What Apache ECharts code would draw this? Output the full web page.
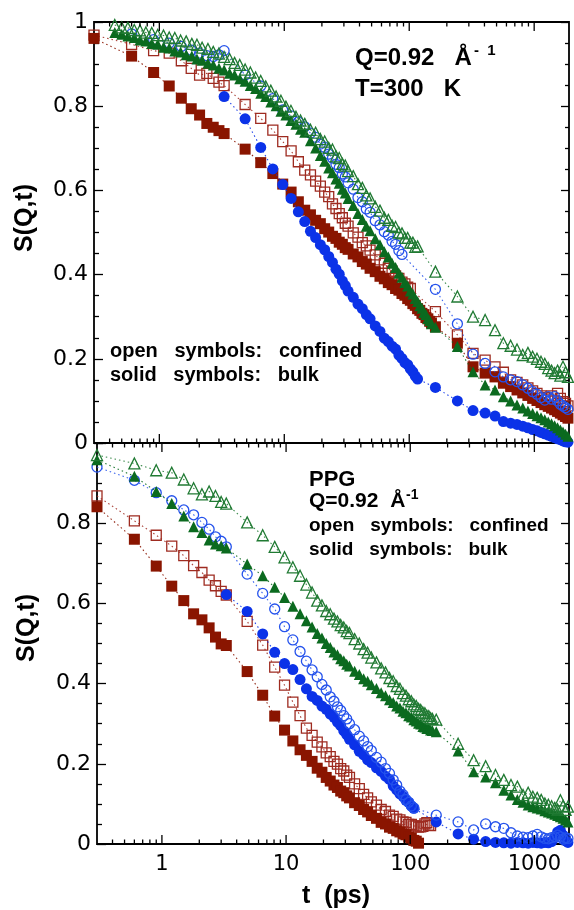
<!DOCTYPE html>
<html>
<head>
<meta charset="utf-8">
<script src="https://cdn.jsdelivr.net/npm/echarts@6/dist/echarts.min.js"></script>
<style>
  html, body { margin: 0; padding: 0; background: #fff; }
  #chart { width: 574px; height: 910px; }
</style>
</head>
<body>
<div id="chart"></div>
<script>
// ---- time grids (ps) ----
const tEarly = [0.3, 0.6, 0.9, 1.2, 1.5, 1.8, 2.1, 2.4, 2.7, 3.0, 3.3, 4.86, 6.48, 8.1, 9.72, 11.34, 12.96];
const tFine = [0.44, 0.5, 0.56, 0.63, 0.7, 0.78, 0.87, 0.97, 1.08, 1.2, 1.33, 1.48, 1.64, 1.82, 2.0, 2.2, 2.45, 2.7, 3.0, 3.3,
  3.65, 4.0, 4.4, 4.86, 5.35, 5.9, 6.48, 7.1, 7.8, 8.6, 9.4, 10.3, 11.3, 12.4, 13.5];
const tDense = [14.58, 16.2, 17.82, 19.44, 21.06, 22.68, 24.3, 25.92, 27.54, 29.16, 30.78, 32.4,
  35.64, 38.88, 42.12, 45.36, 48.6,
  53.46, 58.32, 63.18, 68.04, 72.9, 77.76, 82.62, 87.48, 92.34, 97.2, 102.06, 106.92, 111.78, 116.64,
  121.5, 126.36, 131.22, 136.08, 140.94, 145.8, 150.66];
const tLate = [162, 243, 324, 405, 486, 567, 648, 729, 810, 891, 972, 1053, 1134, 1215, 1296, 1377, 1458, 1539, 1620, 1701, 1782, 1863];

const tMain = tEarly.concat(tDense, tLate);
const tGreenTop = tFine.concat(tDense, tLate);

// ---- upper panel, T = 300 K ----
const topRedBulk = [
  0.961, 0.919, 0.880, 0.848, 0.819, 0.794, 0.779, 0.759, 0.750, 0.742, 0.735, 0.698, 0.666, 0.640, 0.615, 0.596, 0.573,
  0.553, 0.542, 0.529, 0.521, 0.509, 0.501, 0.491, 0.486, 0.477, 0.472, 0.464, 0.460, 0.449, 0.442, 0.431, 0.425, 0.415,
  0.407, 0.396, 0.390, 0.381, 0.376, 0.367, 0.363, 0.355, 0.351, 0.343, 0.339, 0.331, 0.327, 0.319, 0.315, 0.308, 0.305, 0.298, 0.295, 0.289, 0.285,
  0.276, 0.237, 0.181, 0.166, 0.157, 0.142, 0.134, 0.126, 0.119, 0.113, 0.106, 0.101, 0.096, 0.091, 0.087, 0.083, 0.079, 0.075, 0.071, 0.067, 0.063, 0.059
];
const topRedConfined = [
  0.969, 0.947, 0.932, 0.926, 0.908, 0.890, 0.874, 0.878, 0.866, 0.857, 0.849, 0.804, 0.771, 0.743, 0.716, 0.694, 0.668,
  0.648, 0.637, 0.622, 0.610, 0.596, 0.585, 0.568, 0.557, 0.545, 0.535, 0.522, 0.515, 0.499, 0.489, 0.476, 0.468, 0.458,
  0.447, 0.435, 0.427, 0.415, 0.408, 0.397, 0.391, 0.382, 0.378, 0.370, 0.367, null, null, null, null, null, null, null, null, null, null,
  0.312, 0.257, 0.213, 0.197, 0.181, 0.168, 0.150, 0.144, 0.138, 0.131, 0.124, 0.118, 0.112, 0.108, 0.104, 0.112, 0.100, 0.118, 0.106, 0.098, 0.094, 0.088
];
const topBlueBulk = [
  null, null, null, null, null, null, null, null, null, null, 0.823, 0.770, 0.702, 0.651, 0.614, 0.581, 0.549,
  0.526, 0.503, 0.488, 0.471, 0.459, 0.443, 0.429, 0.413, 0.401, 0.385, 0.374, 0.361, 0.346, 0.330, 0.319, 0.305, 0.295,
  0.278, 0.265, 0.249, 0.241, 0.230, 0.223, 0.209, 0.201, 0.191, 0.186, 0.176, 0.169, 0.159, 0.152, null, null, null, null, null, null, null,
  0.132, 0.100, 0.077, 0.071, 0.064, 0.051, 0.047, 0.044, 0.040, 0.036, 0.032, 0.029, 0.025, 0.022, 0.019, 0.016, 0.013, 0.010, 0.008, 0.005, 0.003, 0.002
];
const topBlueConfined = [
  null, 0.972, 0.958, 0.950, 0.942, 0.933, 0.926, 0.920, 0.918, 0.922, 0.932, 0.874, 0.848, 0.818, 0.791, 0.777, 0.763,
  0.751, 0.736, 0.726, 0.710, 0.702, 0.686, 0.677, 0.662, 0.654, 0.639, 0.632, 0.618, 0.603, 0.583, 0.573, 0.556, 0.548,
  0.528, 0.518, 0.502, 0.494, 0.479, 0.472, 0.457, 0.448, null, null, null, null, null, null, null, null, null, null, null, null, null,
  0.365, 0.283, 0.211, 0.189, 0.169, 0.157, 0.150, 0.146, 0.138, 0.130, 0.122, 0.116, 0.108, 0.102, 0.110, 0.104, 0.110, 0.100, 0.092, 0.088, 0.084, 0.080
];
const topGreenBulk = [
  0.975, 0.971, 0.967, 0.963, 0.957, 0.955, 0.949, 0.947, 0.940, 0.938, 0.931, 0.929, 0.922, 0.919, 0.912, 0.909, 0.902, 0.898,
  0.890, 0.886, 0.878, 0.874, 0.865, 0.859, 0.849, 0.842, 0.831, 0.823, 0.810, 0.801, 0.788, 0.779, 0.766, 0.757, 0.745,
  0.738, 0.718, 0.701, 0.683, 0.669, 0.653, 0.642, 0.627, 0.617, 0.603, 0.594, 0.581, 0.564, 0.545, 0.531, 0.515, 0.504,
  0.485, 0.471, 0.454, 0.442, 0.427, 0.417, 0.403, 0.394, 0.381, 0.373, 0.361, 0.354, 0.343, 0.336, 0.326, 0.320, 0.310, 0.305, 0.296, 0.291, 0.283,
  0.275, 0.229, 0.169, 0.138, 0.126, 0.110, 0.100, 0.090, 0.083, 0.076, 0.070, 0.065, 0.060, 0.055, 0.050, 0.046, 0.041, 0.036, 0.031, 0.026, 0.021, 0.016
];
const topGreenConfined = [
  0.993, 0.987, 0.986, 0.981, 0.980, 0.975, 0.974, 0.969, 0.968, 0.963, 0.962, 0.956, 0.954, 0.948, 0.946, 0.939, 0.936, 0.929,
  0.925, 0.917, 0.912, 0.903, 0.898, 0.887, 0.880, 0.868, 0.860, 0.847, 0.837, 0.823, 0.813, 0.799, 0.789, 0.775, 0.766,
  0.758, 0.744, 0.737, 0.722, 0.716, 0.701, 0.697, 0.681, 0.677, 0.663, 0.659, 0.646, 0.634, 0.615, 0.606, 0.588, 0.581,
  0.561, 0.552, 0.535, 0.530, 0.516, 0.513, 0.500, 0.498, 0.487, 0.487, 0.476, 0.476, 0.466, 0.467, null, null, null, null, null, null, null,
  0.407, 0.348, 0.300, 0.292, 0.268, 0.237, 0.231, 0.222, 0.209, 0.214, 0.205, 0.200, 0.193, 0.188, 0.178, 0.172, 0.166, 0.172, 0.160, 0.181, 0.168, 0.157
];

// ---- lower panel, PPG ----
const botRedBulk = [
  0.841, 0.760, 0.693, 0.643, 0.607, 0.574, 0.559, 0.539, 0.516, 0.499, 0.495, 0.430, 0.371, 0.319, 0.284, 0.257, 0.235,
  0.221, 0.206, 0.189, 0.179, 0.166, 0.157, 0.147, 0.141, 0.132, 0.128, 0.120, 0.115, 0.103, 0.096, 0.086, 0.080, 0.071,
  0.064, 0.054, 0.050, 0.042, 0.039, 0.033, 0.030, 0.025, 0.023, 0.017, 0.015, 0.009, 0.007, 0.002
];
const botRedConfined = [
  0.868, 0.806, 0.770, 0.743, 0.719, 0.694, 0.677, 0.658, 0.644, 0.630, 0.621, 0.555, 0.496, 0.441, 0.396, 0.354, 0.320,
  0.289, 0.271, 0.254, 0.242, 0.227, 0.218, 0.206, 0.199, 0.188, 0.182, 0.172, 0.166, 0.150, 0.138, 0.124, 0.115, 0.105,
  0.097, 0.086, 0.081, 0.072, 0.069, 0.062, 0.060, 0.055, 0.054, 0.049, 0.049, 0.045, 0.045, 0.042, 0.043, 0.044, 0.050, 0.053, 0.047, 0.046
];
const botBlueBulk = [
  null, null, null, null, null, null, null, null, null, null, 0.622, 0.580, 0.524, 0.478, 0.450, 0.435, 0.410,
  0.387, 0.368, 0.358, 0.344, 0.336, 0.324, 0.316, 0.304, 0.295, 0.282, 0.273, 0.261, 0.247, 0.231, 0.222, 0.210, 0.203,
  0.190, 0.181, 0.169, 0.161, 0.145, 0.135, 0.125, 0.119, 0.109, 0.104, 0.095, 0.089, null, null, null, null, null, null, null, null, null,
  0.055, 0.025, 0.012, 0.006, 0.004, 0.003, 0.002, 0.004, 0.003, 0.002, 0.004, 0.003, 0.002, 0.004, 0.003, 0.006, 0.015, 0.030, 0.034, 0.022, 0.008, 0.004
];
const botBlueConfined = [
  0.940, 0.907, 0.876, 0.856, 0.833, 0.821, 0.802, 0.785, 0.766, 0.755, 0.741, 0.673, 0.625, 0.586, 0.542, 0.509, 0.480,
  0.456, 0.434, 0.417, 0.398, 0.384, 0.367, 0.356, 0.342, 0.333, 0.320, 0.312, 0.300, 0.285, 0.269, 0.257, 0.243, 0.233,
  0.216, 0.204, 0.188, 0.176, 0.160, 0.147, 0.132, 0.123, 0.111, 0.104, 0.095, 0.090, null, null, null, null, null, null, null, null, null,
  0.072, 0.055, 0.035, 0.050, 0.043, 0.039, 0.028, 0.020, 0.017, 0.016, 0.020, 0.024, 0.018, 0.014, 0.013, 0.016, 0.018, 0.022, 0.018, 0.012, 0.015, 0.014
];
const botGreenBulk = [
  0.958, 0.917, 0.879, 0.849, 0.818, 0.791, 0.777, 0.758, 0.748, 0.744, 0.738, 0.698, 0.669, 0.640, 0.615, 0.593, 0.574,
  0.557, 0.541, 0.525, 0.514, 0.500, 0.490, 0.479, 0.472, 0.462, 0.457, 0.448, 0.444, 0.431, 0.423, 0.412, 0.406, 0.397,
  0.388, 0.377, 0.370, 0.360, 0.353, 0.344, 0.339, 0.331, 0.327, 0.320, 0.317, 0.310, 0.307, 0.301, 0.299, 0.293, 0.292, 0.288, 0.288, 0.284, 0.283,
  0.280, 0.232, 0.180, 0.167, 0.153, 0.134, 0.122, 0.111, 0.104, 0.097, 0.093, 0.090, 0.087, 0.083, 0.080, 0.077, 0.074, 0.071, 0.068, 0.064, 0.060, 0.055
];
const botGreenConfined = [
  0.970, 0.949, 0.932, 0.926, 0.909, 0.887, 0.872, 0.879, 0.868, 0.853, 0.849, 0.802, 0.770, 0.741, 0.715, 0.690, 0.669,
  0.647, 0.627, 0.607, 0.595, 0.581, 0.573, 0.562, 0.555, 0.546, 0.540, 0.531, 0.526, 0.511, 0.500, 0.486, 0.477, 0.465,
  0.453, 0.438, 0.428, 0.414, 0.406, 0.394, 0.387, 0.376, 0.370, 0.361, 0.356, 0.348, 0.344, 0.337, 0.334, 0.328, 0.326, 0.320, 0.319, 0.314, 0.312,
  0.310, 0.250, 0.209, 0.194, 0.172, 0.160, 0.147, 0.143, 0.122, 0.128, 0.118, 0.115, 0.110, 0.101, 0.098, 0.094, 0.090, 0.086, 0.109, 0.095, 0.085, 0.093
];

// ---- axis ticks and labels ----
const xTickLabels = [1, 10, 100, 1000];
const xMinorTicks = [0.4, 0.5, 0.6, 0.7, 0.8, 0.9, 2, 3, 4, 5, 6, 7, 8, 9, 20, 30, 40, 50, 60, 70, 80, 90,
  200, 300, 400, 500, 600, 700, 800, 900];
const yTickLabels = ['0', '0.2', '0.4', '0.6', '0.8', '1'];

const RED = '#8a1500', RED_OPEN = '#9e2b20';
const BLUE = '#0b32e8', BLUE_OPEN = '#2452ec';
const GREEN = '#0b6a1f', GREEN_OPEN = '#207a33';
const TICK_FONT = '"DejaVu Sans", sans-serif';
const BOLD_FONT = '"Liberation Sans", Arial, sans-serif';

function pairs(ts, vs) {
  const out = [];
  for (let i = 0; i < ts.length; i++) {
    if (vs[i] != null) out.push([ts[i], vs[i]]);
  }
  return out;
}

function curve(panel, ts, vs, symbol, color, filled, size, z) {
  return {
    type: 'line',
    xAxisIndex: panel,
    yAxisIndex: panel * 2,
    data: pairs(ts, vs),
    symbol: symbol,
    symbolSize: size,
    showAllSymbol: true,
    clip: false,
    silent: true,
    z: z,
    lineStyle: { color: color, width: 1.1, type: [1.5, 3], opacity: 0.9 },
    itemStyle: filled
      ? { color: color, borderWidth: 0 }
      : { color: 'rgba(255,255,255,0)', borderColor: color, borderWidth: 1.3 }
  };
}

// decade and sub-decade ticks along the top and bottom edges of a panel
function xTicks(panel) {
  return {
    type: 'custom',
    xAxisIndex: panel,
    yAxisIndex: panel * 2,
    clip: false,
    silent: true,
    z: 20,
    data: xTickLabels.map(v => [v, 1]).concat(xMinorTicks.map(v => [v, 0])),
    renderItem: function (params, api) {
      const t = api.value(0);
      const major = api.value(1) === 1;
      const lo = api.coord([t, 0]);
      const hi = api.coord([t, 1]);
      const len = major ? 9 : 4.5;
      const st = { stroke: '#000', lineWidth: 1.3 };
      return {
        type: 'group',
        children: [
          { type: 'line', shape: { x1: lo[0], y1: lo[1], x2: lo[0], y2: lo[1] - len }, style: st },
          { type: 'line', shape: { x1: hi[0], y1: hi[1], x2: hi[0], y2: hi[1] + len }, style: st }
        ]
      };
    }
  };
}

function yLabel(v) {
  const i = Math.round(v / 0.2);
  return Math.abs(v - i * 0.2) < 1e-6 ? (yTickLabels[i] || '') : '';
}
function xLabel(v) {
  const m = xTickLabels.find(x => Math.abs(Math.log10(x) - Math.log10(v)) < 1e-6);
  return m ? String(m) : '';
}

function yAxisLeft(panel, showMax) {
  return {
    gridIndex: panel, type: 'value', min: 0, max: 1, interval: 0.2,
    axisLine: { show: false },
    axisTick: { show: true, inside: true, length: 9, lineStyle: { color: '#000', width: 1.3 } },
    minorTick: { show: true, splitNumber: 4, length: 5, lineStyle: { color: '#000', width: 1.3 } },
    splitLine: { show: false },
    minorSplitLine: { show: false },
    axisLabel: {
      show: true, formatter: yLabel, showMaxLabel: showMax, margin: 6,
      fontFamily: TICK_FONT, fontSize: 22, color: '#000'
    }
  };
}
function yAxisRight(panel) {
  return {
    gridIndex: panel, type: 'value', position: 'right', min: 0, max: 1, interval: 0.2,
    axisLine: { show: false },
    axisTick: { show: true, inside: true, length: 8, lineStyle: { color: '#000', width: 1.3 } },
    minorTick: { show: true, splitNumber: 4, length: 4, lineStyle: { color: '#000', width: 1.3 } },
    splitLine: { show: false },
    axisLabel: { show: false }
  };
}
function xAxis(panel, labels) {
  return {
    gridIndex: panel, type: 'log', logBase: 10, min: 0.3, max: 1900,
    axisLine: { show: false },
    axisTick: { show: false },
    splitLine: { show: false },
    minorTick: { show: false },
    axisLabel: {
      show: labels, formatter: xLabel, margin: 10,
      fontFamily: TICK_FONT, fontSize: 21, color: '#000'
    }
  };
}

function txt(x, y, text, size, extra) {
  return Object.assign({
    type: 'text', x: x, y: y, silent: true, z: 50,
    style: {
      text: text, font: 'bold ' + size + 'px ' + BOLD_FONT, fill: '#000',
      textAlign: 'left', textVerticalAlign: 'middle', verticalAlign: 'middle'
    }
  }, extra || {});
}
function centered(x, y, text, size, rotation) {
  return {
    type: 'text', x: x, y: y, rotation: rotation || 0, silent: true, z: 50,
    style: {
      text: text, font: 'bold ' + size + 'px ' + BOLD_FONT, fill: '#000',
      textAlign: 'center', textVerticalAlign: 'middle', verticalAlign: 'middle'
    }
  };
}

const chart = echarts.init(document.getElementById('chart'), null, { renderer: 'canvas' });
chart.setOption({
  animation: false,
  backgroundColor: '#fff',
  grid: [
    { left: 94, top: 22, width: 475, height: 421, show: true, borderColor: '#000', borderWidth: 1.8, backgroundColor: 'transparent' },
    { left: 97, top: 443, width: 472, height: 401, show: true, borderColor: '#000', borderWidth: 1.8, backgroundColor: 'transparent' }
  ],
  xAxis: [xAxis(0, false), xAxis(1, true)],
  yAxis: [yAxisLeft(0, true), yAxisRight(0), yAxisLeft(1, false), yAxisRight(1)],
  series: [
    curve(0, tMain, topRedConfined, 'rect', RED_OPEN, false, 10, 2),
    curve(0, tMain, topRedBulk, 'rect', RED, true, 11, 3),
    curve(0, tMain, topBlueBulk, 'circle', BLUE, true, 11, 4),
    curve(0, tMain, topBlueConfined, 'circle', BLUE_OPEN, false, 10, 5),
    curve(0, tGreenTop, topGreenBulk, 'triangle', GREEN, true, 11, 6),
    curve(0, tGreenTop, topGreenConfined, 'triangle', GREEN_OPEN, false, 11, 7),

    curve(1, tMain, botRedConfined, 'rect', RED_OPEN, false, 10, 2),
    curve(1, tMain, botRedBulk, 'rect', RED, true, 11, 3),
    curve(1, tMain, botBlueBulk, 'circle', BLUE, true, 11, 4),
    curve(1, tMain, botBlueConfined, 'circle', BLUE_OPEN, false, 10, 5),
    curve(1, tMain, botGreenBulk, 'triangle', GREEN, true, 11, 6),
    curve(1, tMain, botGreenConfined, 'triangle', GREEN_OPEN, false, 11, 7),

    xTicks(0),
    xTicks(1)
  ],
  graphic: [
    // upper panel annotations
    txt(355, 58, 'Q=0.92   Å', 24),
    txt(474, 51, '-  1', 15),
    txt(355, 89, 'T=300   K', 24),
    txt(110, 351, 'open   symbols:   confined', 20),
    txt(110, 375, 'solid   symbols:   bulk', 20),
    // lower panel annotations
    txt(309, 480, 'PPG', 22),
    txt(309, 501, 'Q=0.92  Å', 21),
    txt(406, 495, '-1', 14),
    txt(309, 526, 'open   symbols:   confined', 19),
    txt(309, 550, 'solid   symbols:   bulk', 19),
    // axis titles
    centered(25, 218, 'S(Q,t)', 25, Math.PI / 2),
    centered(27, 628, 'S(Q,t)', 25, Math.PI / 2),
    centered(336, 896, 't  (ps)', 25, 0)
  ]
});
</script>
</body>
</html>
